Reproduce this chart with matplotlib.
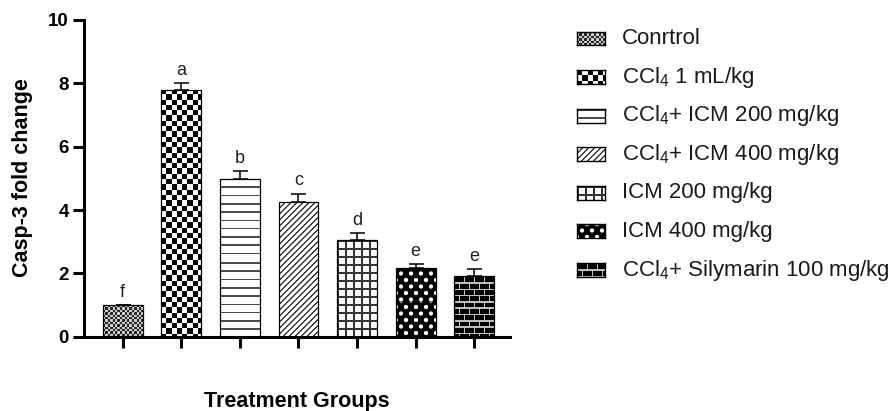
import numpy as np
import matplotlib
matplotlib.use("Agg")
import matplotlib.pyplot as plt

plt.rcParams["font.family"] = ["Liberation Sans", "DejaVu Sans"]
plt.rcParams["mathtext.fontset"] = "custom"
plt.rcParams["mathtext.rm"] = "Liberation Sans"
plt.rcParams["mathtext.it"] = "Liberation Sans:italic"
plt.rcParams["mathtext.bf"] = "Liberation Sans:bold"

# ---- data ----
groups = ["Conrtrol", "CCl$_4$ 1 mL/kg", "CCl$_4$+ ICM 200 mg/kg",
          "CCl$_4$+ ICM 400 mg/kg", "ICM 200 mg/kg", "ICM 400 mg/kg",
          "CCl$_4$+ Silymarin 100 mg/kg"]
fold_change = [1.0, 7.8, 4.99, 4.26, 3.05, 2.18, 1.92]
sem = [0.0, 0.22, 0.23, 0.26, 0.22, 0.12, 0.22]
letters = ["f", "a", "b", "c", "d", "e", "e"]
fills = ["fine", "checker", "hlines", "diag", "grid", "diamond", "brick"]
yticks = [0, 2, 4, 6, 8, 10]


def pattern(name, w, h):
    """Return a w x h greyscale fill (1 = black) in screen pixels."""
    yy, xx = np.mgrid[0:h, 0:w] + 0.5
    if name == "fine":
        c = (np.floor(xx / 2.4) + np.floor(yy / 2.4)) % 2
        return np.where(c == 0, 0.85, 0.2)
    if name == "checker":
        c = (np.floor(xx / 5.3) + np.floor(yy / 5.3)) % 2
        return np.where(c == 0, 1.0, 0.0)
    if name == "hlines":
        return np.where((yy % 8.3) < 1.6, 0.7, 0.0)
    if name == "diag":
        return np.where(((xx + yy) % 6.0) < 1.3, 0.75, 0.0)
    if name == "grid":
        v = ((xx % 8.0) < 1.8) | ((yy % 8.0) < 1.8)
        return np.where(v, 0.8, 0.0)
    if name == "diamond":
        sx, sy = 10.0, 6.5
        dxa = (xx + sx / 2) % sx - sx / 2
        dya = (yy + sy) % (2 * sy) - sy
        dxb = xx % sx - sx / 2
        dyb = yy % (2 * sy) - sy
        d = np.minimum(np.hypot(dxa, dya), np.hypot(dxb, dyb))
        return np.clip((d - 1.6) / 1.0, 0, 1)
    if name == "brick":
        row = np.floor(yy / 6.3)
        mort_h = (yy % 6.3) < 1.5
        mort_v = ((xx + (row % 2) * 5.0) % 10.0) < 1.5
        return np.where(mort_h | mort_v, 0.25, 1.0)
    return np.zeros((h, w))


W, H = 895, 411
fig = plt.figure(figsize=(W / 100, H / 100), dpi=100)
ax = fig.add_axes([84 / W, (H - 336.7) / H, (510 - 84) / W, (336.7 - 20) / H])

x = np.arange(len(groups))
width = 0.68
ax.set_xlim(-0.66, 6.61)
ax.set_ylim(0, 10)

bars = ax.bar(x, fold_change, width=width, color="white", edgecolor="none", zorder=1)

# pattern fills, clipped to each bar
for bar, name in zip(bars, fills):
    x0, y0 = bar.get_x(), bar.get_y()
    x1, y1 = x0 + bar.get_width(), y0 + bar.get_height()
    (px0, py0), (px1, py1) = ax.transData.transform([(x0, y0), (x1, y1)])
    w_px = max(int(round(px1 - px0)), 1)
    h_px = max(int(round(py1 - py0)), 1)
    img = ax.imshow(pattern(name, w_px, h_px), cmap="gray_r", vmin=0, vmax=1,
                    extent=(x0, x1, y0, y1), origin="upper",
                    interpolation="nearest", aspect="auto", zorder=2)
    img.set_clip_path(bar)

ax.bar(x, fold_change, width=width, facecolor="none", edgecolor="black",
       linewidth=0.9, zorder=3)
ax.set_xlim(-0.66, 6.61)
ax.set_ylim(0, 10)

# upper error bars
ax.errorbar(x, fold_change, yerr=[np.zeros(len(sem)), sem], fmt="none",
            ecolor="black", elinewidth=1.1, capsize=5.4, capthick=1.1, zorder=4)

# significance letters
for xi, v, e, lab in zip(x, fold_change, sem, letters):
    ax.annotate(lab, (xi, v + e), xytext=(0, 3), textcoords="offset points",
                ha="center", va="bottom", fontsize=13, color="#222222")

for s in ["top", "right"]:
    ax.spines[s].set_visible(False)
for s in ["left", "bottom"]:
    ax.spines[s].set_linewidth(2.2)

ax.set_yticks(yticks)
ax.set_yticklabels([str(t) for t in yticks], fontsize=13.5, fontweight="bold")
ax.set_xticks(x)
ax.set_xticklabels([])
ax.tick_params(axis="both", direction="out", length=8, width=2.2, pad=3)

ax.set_ylabel("Casp-3 fold change", fontsize=15.5, fontweight="bold")
ax.yaxis.set_label_coords(-0.12, 0.503)
ax.set_xlabel("Treatment Groups", fontsize=15.5, fontweight="bold", va="center")
ax.xaxis.set_label_coords(0.5, -0.205)

# legend
row0, row_step = 38.5, 38.6
hw, hh = 28, 14
for i, (lab, name) in enumerate(zip(groups, fills)):
    yc = row0 + i * row_step
    lax = fig.add_axes([577 / W, (H - yc - hh / 2) / H, hw / W, hh / H])
    lax.imshow(pattern(name, hw, hh), cmap="gray_r", vmin=0, vmax=1,
               extent=(0, hw, 0, hh), origin="upper", interpolation="nearest",
               aspect="auto")
    lax.set_xticks([])
    lax.set_yticks([])
    for sp in lax.spines.values():
        sp.set_linewidth(1.0)
        sp.set_color("black")
    fig.text(622 / W, (H - yc) / H, lab, va="center", ha="left",
             fontsize=16, color="#1a1a1a")

fig.savefig("out.png", dpi=100)
